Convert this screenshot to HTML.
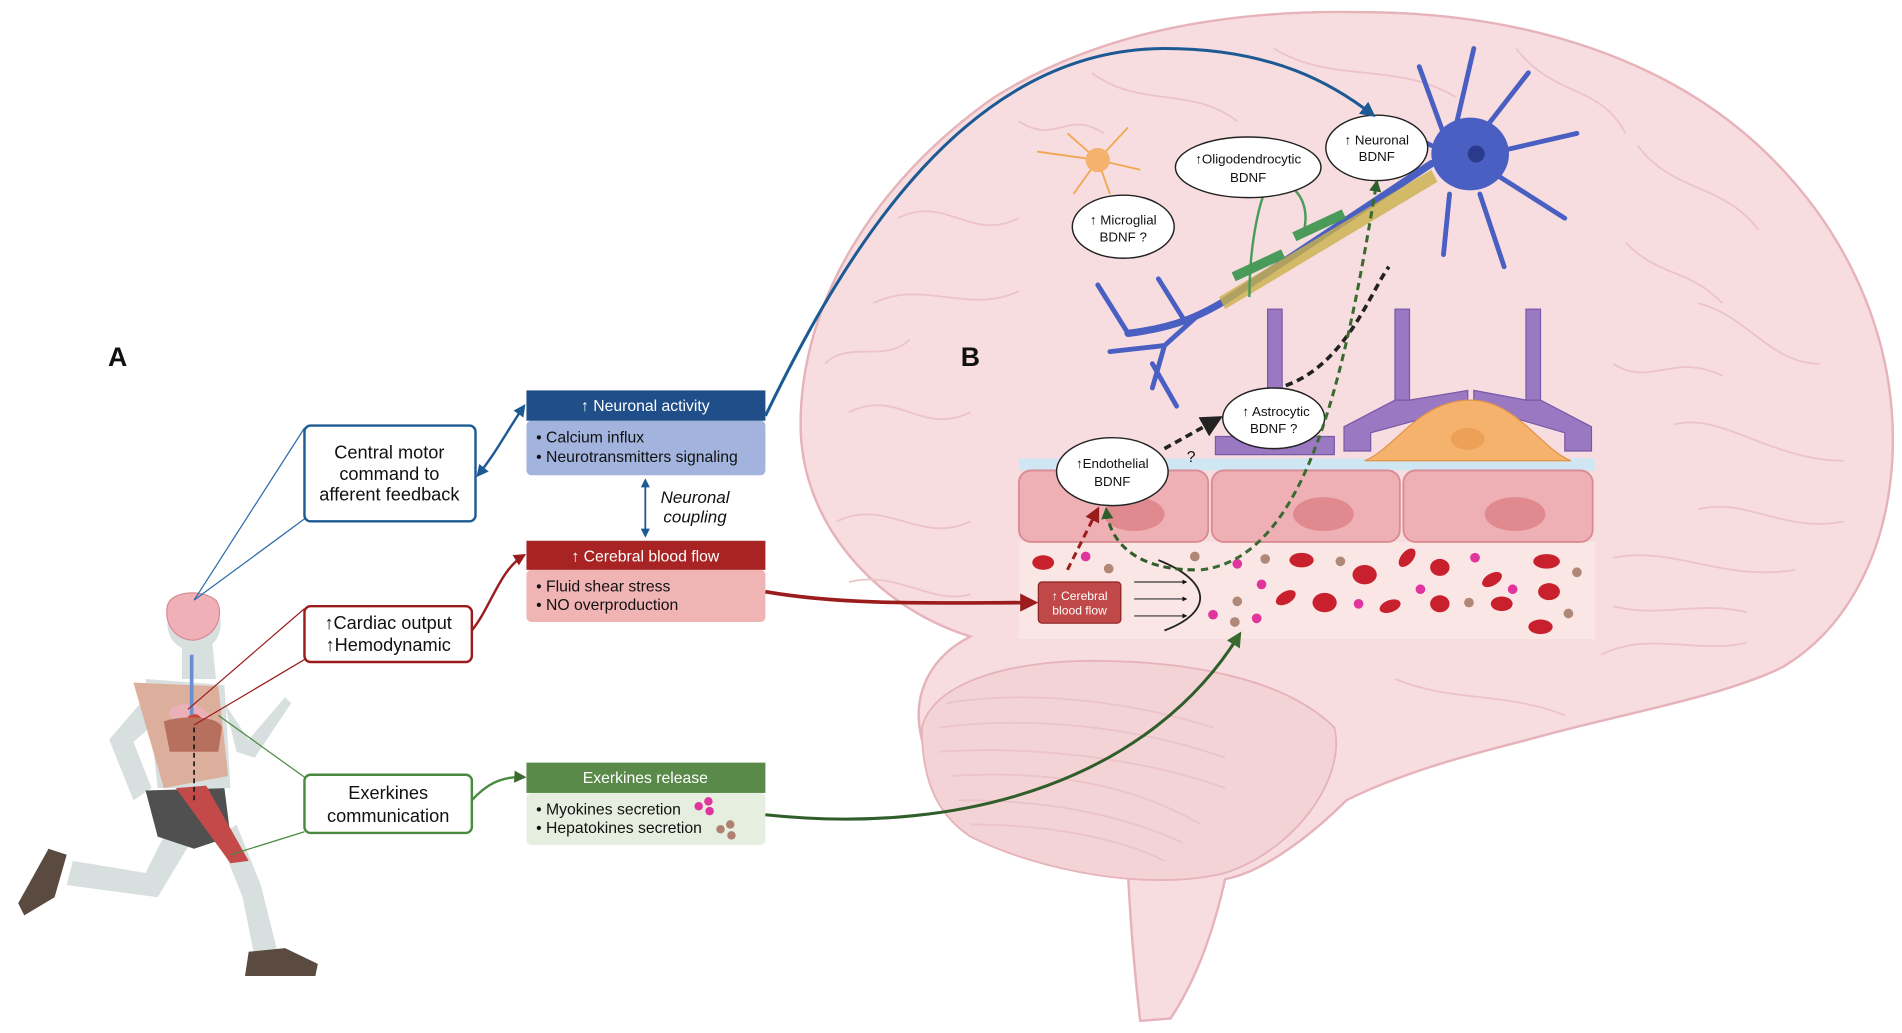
<!DOCTYPE html>
<html><head><meta charset="utf-8"><style>
html,body{margin:0;padding:0;background:#fff;}
svg{display:block;}
text{font-family:"Liberation Sans",sans-serif;}
</style></head><body>
<svg width="1902" height="1033" viewBox="0 0 1568 852" preserveAspectRatio="none" xmlns="http://www.w3.org/2000/svg">
<defs>
<marker id="ab" viewBox="0 0 10 10" refX="8" refY="5" markerWidth="5" markerHeight="5" orient="auto-start-reverse"><path d="M0,0L10,5L0,10z" fill="#1d5a94"/></marker>
<marker id="ar" viewBox="0 0 10 10" refX="8" refY="5" markerWidth="5" markerHeight="5" orient="auto"><path d="M0,0L10,5L0,10z" fill="#9b1c1c"/></marker>
<marker id="ag" viewBox="0 0 10 10" refX="8" refY="5" markerWidth="5" markerHeight="5" orient="auto"><path d="M0,0L10,5L0,10z" fill="#3a6a30"/></marker>
<marker id="agd" viewBox="0 0 10 10" refX="8" refY="5" markerWidth="4" markerHeight="4" orient="auto"><path d="M0,0L10,5L0,10z" fill="#2f5e2a"/></marker>
<marker id="ak" viewBox="0 0 10 10" refX="8" refY="5" markerWidth="4" markerHeight="4" orient="auto"><path d="M0,0L10,5L0,10z" fill="#111"/></marker>
<marker id="ak2" viewBox="0 0 10 10" refX="8" refY="5" markerWidth="6" markerHeight="6" orient="auto"><path d="M0,0L10,5L0,10z" fill="#222"/></marker>
</defs>

<!-- BRAIN -->
<path d="M930,722 C860,715 775,680 760,610 C750,570 770,540 800,525 C720,500 660,430 660,350 C660,250 720,150 820,80 C900,30 1000,8 1120,10 C1260,10 1380,50 1460,130 C1530,200 1565,290 1560,380 C1555,460 1520,520 1470,550 C1420,575 1330,590 1260,610 C1200,625 1150,640 1110,660 C1080,690 1040,720 1010,725 C1000,770 985,810 965,840 L940,842 C935,800 932,760 930,722 Z" fill="#f8dde0" stroke="#e5b3b9" stroke-width="2"/>
<path d="M760,600 C770,560 840,545 900,545 C980,545 1060,560 1100,600 C1110,640 1070,700 1010,720 C950,735 860,720 800,690 C770,670 760,640 760,600 Z" fill="#f4d3d7" stroke="#e5b3b9" stroke-width="1.5"/>
<g fill="none" stroke="#ebc3c8" stroke-width="1.5">
<path d="M780,580 C840,570 920,575 1000,600"/><path d="M775,600 C850,590 940,600 1010,625"/><path d="M775,620 C850,615 940,625 1010,650"/><path d="M785,640 C860,635 930,645 990,680"/><path d="M790,660 C860,660 920,670 975,695"/><path d="M800,680 C860,680 920,690 960,710"/>
<path d="M720,250 C760,230 800,260 840,240"/><path d="M700,340 C740,320 760,360 800,340"/><path d="M690,430 C730,410 760,450 800,430"/><path d="M740,180 C780,160 800,200 840,180"/><path d="M680,300 C700,280 730,300 750,280"/><path d="M700,480 C740,470 770,500 800,490"/>
<path d="M1350,120 C1380,160 1420,150 1450,190"/><path d="M1400,250 C1440,260 1460,300 1500,300"/><path d="M1380,350 C1420,340 1460,380 1520,380"/><path d="M1330,460 C1380,450 1420,480 1480,470"/><path d="M1340,200 C1370,230 1390,220 1420,250"/><path d="M1330,300 C1360,320 1380,290 1420,310"/><path d="M1400,420 C1440,410 1470,440 1520,430"/>
<path d="M900,60 C940,90 980,70 1020,100"/><path d="M1050,40 C1100,70 1150,50 1200,80"/><path d="M1250,40 C1280,80 1320,70 1340,110"/><path d="M840,100 C870,120 880,90 910,110"/>
<path d="M1320,540 C1360,520 1400,540 1440,530"/><path d="M1150,560 C1200,580 1240,570 1290,590"/><path d="M1330,500 C1370,510 1400,495 1440,505"/>
</g>

<!-- vessel -->
<rect x="840" y="378" width="475" height="10" fill="#cfe6f3"/>
<rect x="840" y="447" width="475" height="80" fill="#fbe6e6"/>
<g fill="#eeb0b4" stroke="#d98a92" stroke-width="1.5">
<rect x="840" y="388" width="156" height="59" rx="10"/>
<rect x="999" y="388" width="155" height="59" rx="10"/>
<rect x="1157" y="388" width="156" height="59" rx="10"/>
</g>
<g fill="#e08a90"><ellipse cx="935" cy="424" rx="25" ry="14"/><ellipse cx="1091" cy="424" rx="25" ry="14"/><ellipse cx="1249" cy="424" rx="25" ry="14"/></g>
<g fill="#c9202e">
<ellipse cx="860" cy="464" rx="9" ry="6"/><ellipse cx="1073" cy="462" rx="10" ry="6"/><ellipse cx="1125" cy="474" rx="10" ry="8"/><ellipse cx="1160" cy="460" rx="9" ry="5" transform="rotate(-50 1160 460)"/><ellipse cx="1187" cy="468" rx="8" ry="7"/><ellipse cx="1230" cy="478" rx="9" ry="5" transform="rotate(-30 1230 478)"/><ellipse cx="1275" cy="463" rx="11" ry="6"/><ellipse cx="1277" cy="488" rx="9" ry="7"/><ellipse cx="1060" cy="493" rx="9" ry="5" transform="rotate(-30 1060 493)"/><ellipse cx="1092" cy="497" rx="10" ry="8"/><ellipse cx="1146" cy="500" rx="9" ry="5" transform="rotate(-20 1146 500)"/><ellipse cx="1187" cy="498" rx="8" ry="7"/><ellipse cx="1238" cy="498" rx="9" ry="6"/><ellipse cx="1270" cy="517" rx="10" ry="6"/>
</g>
<g fill="#e0359c"><circle cx="895" cy="459" r="4"/><circle cx="1020" cy="465" r="4"/><circle cx="1040" cy="482" r="4"/><circle cx="1000" cy="507" r="4"/><circle cx="1036" cy="510" r="4"/><circle cx="1120" cy="498" r="4"/><circle cx="1171" cy="486" r="4"/><circle cx="1216" cy="460" r="4"/><circle cx="1247" cy="486" r="4"/></g>
<g fill="#b08878"><circle cx="914" cy="469" r="4"/><circle cx="985" cy="459" r="4"/><circle cx="1043" cy="461" r="4"/><circle cx="1020" cy="496" r="4"/><circle cx="1018" cy="513" r="4"/><circle cx="1105" cy="463" r="4"/><circle cx="1211" cy="497" r="4"/><circle cx="1300" cy="472" r="4"/><circle cx="1293" cy="506" r="4"/></g>
<path d="M955,462 C1000,480 1000,505 960,520" fill="none" stroke="#222" stroke-width="1.5"/>
<g stroke="#333" stroke-width="1" marker-end="url(#ak)"><line x1="935" y1="480" x2="978" y2="480"/><line x1="935" y1="494" x2="978" y2="494"/><line x1="935" y1="508" x2="978" y2="508"/></g>
<rect x="856" y="480" width="68" height="34" rx="3" fill="#c14848" stroke="#8c2222"/>
<text x="890" y="495" font-size="10" fill="#fff" text-anchor="middle">↑ Cerebral</text>
<text x="890" y="507" font-size="10" fill="#fff" text-anchor="middle">blood flow</text>

<!-- astrocyte feet -->
<g fill="#9a78c2" stroke="#7a58a8" stroke-width="1">
<rect x="1045" y="255" width="12" height="105"/>
<path d="M1002,360 L1100,360 L1100,375 L1002,375 Z"/>
<rect x="1150" y="255" width="12" height="80"/><rect x="1258" y="255" width="12" height="80"/>
<path d="M1150,330 L1162,330 L1210,322 L1210,335 L1130,357 L1130,372 L1108,372 L1108,352 Z"/>
<path d="M1258,330 L1270,330 L1312,352 L1312,372 L1290,372 L1290,357 L1215,335 L1215,322 Z"/>
</g>
<path d="M1125,380 C1150,370 1170,330 1212,330 C1250,330 1270,370 1295,380 Z" fill="#f5b26c" stroke="#e49448"/>
<ellipse cx="1210" cy="362" rx="14" ry="9" fill="#eda058"/>

<!-- neuron -->
<g stroke="#4a5fc2" fill="none" stroke-linecap="round">
<path d="M1180,135 L1010,248 C990,260 970,270 930,275" stroke-width="6"/>
<path d="M990,258 L960,285 L950,320 M960,285 L915,290 M930,275 L905,235 M975,262 L955,230 M950,300 L970,335" stroke-width="4"/>
<path d="M1190,110 L1170,55 M1200,105 L1215,40 M1225,105 L1260,60 M1235,125 L1300,110 M1235,145 L1290,180 M1220,160 L1240,220 M1195,160 L1190,210 M1180,120 L1140,100" stroke-width="4"/>
</g>
<ellipse cx="1212" cy="127" rx="32" ry="30" fill="#4a5fc2"/>
<circle cx="1217" cy="127" r="7" fill="#2a3a8c"/>
<g fill="#c9b24a" opacity="0.8"><path d="M1005,245 L1180,140 L1185,150 L1010,255 Z"/></g>
<g stroke="#4a9a5a" fill="none" stroke-width="2"><path d="M1030,245 C1030,200 1040,150 1050,150 C1070,150 1080,170 1075,190"/></g>
<g fill="#4a9a5a"><rect x="1015" y="215" width="45" height="8" transform="rotate(-25 1037 219)"/><rect x="1065" y="182" width="45" height="8" transform="rotate(-25 1087 186)"/></g>
<g stroke="#f0a850" stroke-width="1.5" fill="none"><path d="M905,132 L880,110 M905,132 L930,105 M905,132 L940,140 M905,132 L885,160 M905,132 L855,125 M905,132 L915,160"/></g>
<circle cx="905" cy="132" r="10" fill="#f5b26c"/>

<g fill="#fff" stroke="#222" stroke-width="1.2">
<ellipse cx="1135" cy="122" rx="42" ry="27"/>
<ellipse cx="1029" cy="138" rx="60" ry="25"/>
<ellipse cx="926" cy="187" rx="42" ry="26"/>
<ellipse cx="1050" cy="345" rx="42" ry="25"/>
<ellipse cx="917" cy="389" rx="46" ry="28"/>
</g>
<g font-size="11" fill="#111" text-anchor="middle">
<text x="1135" y="119">↑ Neuronal</text><text x="1135" y="133">BDNF</text>
<text x="1029" y="135">↑Oligodendrocytic</text><text x="1029" y="150">BDNF</text>
<text x="926" y="185">↑ Microglial</text><text x="926" y="199">BDNF ?</text>
<text x="1052" y="343">↑ Astrocytic</text><text x="1050" y="357">BDNF ?</text>
<text x="917" y="386">↑Endothelial</text><text x="917" y="401">BDNF</text>
</g>
<text x="982" y="381" font-size="13" fill="#111" text-anchor="middle">?</text>

<path d="M960,370 L1005,345" fill="none" stroke="#222" stroke-width="3" stroke-dasharray="6,4" marker-end="url(#ak2)"/>
<path d="M1060,318 C1110,300 1130,240 1145,220" fill="none" stroke="#222" stroke-width="3" stroke-dasharray="6,4"/>
<path d="M880,470 L905,420" fill="none" stroke="#9b1c1c" stroke-width="2.5" stroke-dasharray="6,4" marker-end="url(#ar)"/>
<path d="M985,470 C940,470 915,450 912,420" fill="none" stroke="#2f5e2a" stroke-width="2.5" stroke-dasharray="6,4" marker-end="url(#agd)"/>
<path d="M990,470 C1080,460 1110,300 1135,150" fill="none" stroke="#3a6a30" stroke-width="2.5" stroke-dasharray="6,4" marker-end="url(#agd)"/>

<!-- runner -->
<g fill="#d8dfdf">
<circle cx="160" cy="515" r="22"/>
<path d="M150,530 L175,530 L178,560 L150,560 Z"/>
<path d="M120,560 L185,565 L190,650 L130,650 Z"/>
<path d="M120,575 L90,610 L110,660 L125,650 L110,612 L135,590 Z"/>
<path d="M185,580 L205,610 L235,575 L240,580 L210,625 L195,620 Z"/>
<path d="M140,680 L120,720 L60,710 L55,730 L130,740 L160,690 Z"/>
<path d="M180,690 L200,740 L210,790 L230,790 L215,730 L195,680 Z"/>
</g>
<path d="M138,500 C140,488 165,485 178,495 C185,505 180,525 160,528 C145,528 135,515 138,500 Z" fill="#f0b0b8" stroke="#d88a94"/>
<path d="M110,563 L180,566 L188,640 L135,650 Z" fill="#dcae9c"/>
<path d="M140,590 C135,580 165,575 172,590 C178,600 160,610 150,605 Z" fill="#e9b0b8"/>
<circle cx="160" cy="596" r="7" fill="#d0402c"/>
<line x1="158" y1="540" x2="158" y2="590" stroke="#6a8cd0" stroke-width="3"/>
<path d="M135,595 C150,590 180,590 183,600 L180,620 L140,620 Z" fill="#b8705e"/>
<path d="M120,652 L185,650 L190,690 L160,700 L130,690 Z" fill="#505050"/>
<path d="M145,650 L170,648 L205,710 L190,712 Z" fill="#c44a4a"/>
<line x1="160" y1="600" x2="160" y2="660" stroke="#222" stroke-width="1.5" stroke-dasharray="4,3"/>
<path d="M40,700 L55,705 L45,740 L20,755 L15,745 Z" fill="#5a4a40"/>
<path d="M205,785 L235,782 L262,795 L260,805 L202,805 Z" fill="#5a4a40"/>

<g fill="none" stroke-width="1">
<line x1="160" y1="495" x2="251" y2="353" stroke="#2a6aaa"/><line x1="160" y1="495" x2="251" y2="428" stroke="#2a6aaa"/>
<line x1="155" y1="585" x2="251" y2="502" stroke="#9b1c1c"/><line x1="160" y1="598" x2="251" y2="544" stroke="#9b1c1c"/>
<line x1="180" y1="590" x2="251" y2="641" stroke="#4a8a40"/><line x1="190" y1="705" x2="251" y2="686" stroke="#4a8a40"/>
</g>

<g fill="#fff" stroke-width="2">
<rect x="251" y="351" width="141" height="79" rx="5" stroke="#1d5a94"/>
<rect x="251" y="500" width="138" height="46" rx="5" stroke="#9b1c1c"/>
<rect x="251" y="639" width="138" height="48" rx="5" stroke="#4a8a40"/>
</g>
<g font-size="15" fill="#111" text-anchor="middle">
<text x="321" y="378">Central motor</text><text x="321" y="396">command to</text><text x="321" y="413">afferent feedback</text>
<text x="320" y="519">↑Cardiac output</text><text x="320" y="537">↑Hemodynamic</text>
<text x="320" y="659">Exerkines</text><text x="320" y="678">communication</text>
</g>

<rect x="434" y="347" width="197" height="45" rx="4" fill="#a2b3de"/>
<rect x="434" y="322" width="197" height="25" fill="#1f4e89"/>
<rect x="434" y="470" width="197" height="43" rx="4" fill="#f0b4b4"/>
<rect x="434" y="446" width="197" height="24" fill="#a82424"/>
<rect x="434" y="654" width="197" height="43" rx="4" fill="#e6efdf"/>
<rect x="434" y="629" width="197" height="25" fill="#5a8a4a"/>
<g font-size="13" fill="#fff" text-anchor="middle">
<text x="532" y="339">↑ Neuronal activity</text>
<text x="532" y="463">↑ Cerebral blood flow</text>
<text x="532" y="646">Exerkines release</text>
</g>
<g font-size="13" fill="#111">
<text x="442" y="365">• Calcium influx</text><text x="442" y="381">• Neurotransmitters signaling</text>
<text x="442" y="488">• Fluid shear stress</text><text x="442" y="503">• NO overproduction</text>
<text x="442" y="672">• Myokines secretion</text><text x="442" y="687">• Hepatokines secretion</text>
</g>
<g fill="#e0359c"><circle cx="576" cy="665" r="3.5"/><circle cx="584" cy="661" r="3.5"/><circle cx="585" cy="669" r="3.5"/></g>
<g fill="#b08070"><circle cx="594" cy="684" r="3.5"/><circle cx="602" cy="680" r="3.5"/><circle cx="603" cy="689" r="3.5"/></g>
<g font-size="14" font-style="italic" fill="#111" text-anchor="middle"><text x="573" y="415">Neuronal</text><text x="573" y="431">coupling</text></g>

<line x1="532" y1="396" x2="532" y2="442" stroke="#1d5a94" stroke-width="1.5" marker-start="url(#ab)" marker-end="url(#ab)"/>
<path d="M394,392 C410,372 420,352 432,335" fill="none" stroke="#1d5a94" stroke-width="2" marker-start="url(#ab)" marker-end="url(#ab)"/>
<path d="M389,520 C405,500 412,470 432,458" fill="none" stroke="#9b1c1c" stroke-width="2" marker-end="url(#ar)"/>
<path d="M389,660 C400,648 412,640 432,641" fill="none" stroke="#4a8a40" stroke-width="2" marker-end="url(#ag)"/>
<path d="M631,343 C700,200 800,40 960,40 C1050,40 1100,70 1132,95" fill="none" stroke="#1d5a94" stroke-width="2.5" marker-end="url(#ab)"/>
<path d="M631,488 C700,500 780,497 853,497" fill="none" stroke="#9b1c1c" stroke-width="3" marker-end="url(#ar)"/>
<path d="M631,672 C800,690 950,640 1022,523" fill="none" stroke="#2f5e2a" stroke-width="2.5" marker-end="url(#ag)"/>

<text x="97" y="302" font-size="22" font-weight="bold" fill="#111" text-anchor="middle">A</text>
<text x="800" y="302" font-size="22" font-weight="bold" fill="#111" text-anchor="middle">B</text>
</svg>
</body></html>
